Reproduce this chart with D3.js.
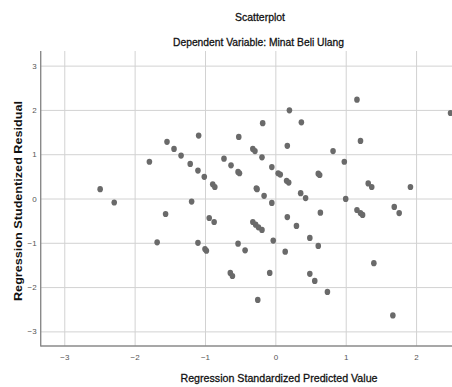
<!DOCTYPE html>
<html>
<head>
<meta charset="utf-8">
<script src="https://cdn.jsdelivr.net/npm/d3@7"></script>
<style>
  html, body { margin: 0; padding: 0; background: #ffffff; }
  svg { display: block; }
</style>
</head>
<body>
<svg id="chart" width="452" height="387"></svg>
<script>
const predicted = [-2.49,-2.29,-1.79,-1.54,-1.44,-1.34,-1.21,-1.10,-1.01,-0.89,-0.86,-1.09,-1.19,-0.73,-0.63,-0.53,-0.51,-0.52,-0.32,-0.29,-0.19,-0.18,-0.27,-0.26,-0.16,-0.05,-0.05,0.04,0.07,0.16,0.19,0.17,0.20,0.37,0.36,0.43,1.16,2.49,1.21,0.82,0.98,0.61,0.63,1.32,1.37,1.92,1.00,1.69,0.64,1.16,1.21,1.24,1.76,0.49,0.61,1.40,0.49,0.56,0.74,1.67,-1.56,-0.94,-0.87,-0.32,-0.28,-0.24,-0.19,0.17,0.30,-1.68,-1.10,-1.00,-0.98,-0.53,-0.43,-0.03,0.14,-0.64,-0.61,-0.08,-0.25];
const residual = [0.21,-0.09,0.83,1.28,1.12,0.97,0.78,0.63,0.49,0.32,0.26,1.42,-0.07,0.90,0.75,0.60,0.57,1.39,1.12,1.07,0.93,1.70,0.23,0.21,0.06,-0.10,0.71,0.57,0.54,0.40,0.36,1.19,1.99,1.72,0.12,0.01,2.23,1.93,1.30,1.07,0.83,0.56,0.53,0.34,0.26,0.26,-0.01,-0.19,-0.32,-0.26,-0.33,-0.37,-0.33,-0.89,-1.07,-1.46,-1.70,-1.86,-2.11,-2.64,-0.35,-0.44,-0.53,-0.53,-0.59,-0.65,-0.71,-0.42,-0.62,-0.99,-1.00,-1.14,-1.18,-1.02,-1.17,-0.95,-1.20,-1.68,-1.75,-1.68,-2.29];
const xTicks = [-3,-2,-1,0,1,2];
const yTicks = [-3,-2,-1,0,1,2,3];
const titleText = "Scatterplot";
const subtitleText = "Dependent Variable: Minat Beli Ulang";
const xLabel = "Regression Standardized Predicted Value";
const yLabel = "Regression Studentized Residual";

const svg = d3.select("#chart");
const plotL = 40.7, plotR = 510, plotT = 51, plotB = 346;

const x = d3.scaleLinear().domain([-3.335, 3.335]).range([plotL, plotR]);
const y = d3.scaleLinear().domain([-3.33, 3.33]).range([plotB, plotT]);

// grid
const xAxis = svg.append("g").attr("transform", `translate(0,${plotB})`)
  .call(d3.axisBottom(x).tickValues(xTicks).tickSize(-(plotB - plotT)).tickPadding(8).tickFormat(d3.format("d")));
const yAxis = svg.append("g").attr("transform", `translate(${plotL},0)`)
  .call(d3.axisLeft(y).tickValues(yTicks).tickSize(-(plotR - plotL)).tickPadding(4).tickFormat(d3.format("d")));

[xAxis, yAxis].forEach(g => {
  g.select(".domain").remove();
  g.selectAll(".tick line").attr("stroke", "#d2d2d2").attr("stroke-width", 1);
  g.selectAll(".tick text").attr("fill", "#555").attr("font-family", "Liberation Sans, Arial, sans-serif").attr("font-size", 8);
});

// axis lines
svg.append("line").attr("x1", plotL).attr("x2", plotL).attr("y1", plotT).attr("y2", plotB + 0.5)
  .attr("stroke", "#8a8a8a").attr("stroke-width", 1.4);
svg.append("line").attr("x1", plotL).attr("x2", plotR).attr("y1", plotB).attr("y2", plotB)
  .attr("stroke", "#8a8a8a").attr("stroke-width", 1.4);

// points
const pts = predicted.map((p, i) => ({p, r: residual[i]}));
svg.append("g").selectAll("ellipse").data(pts).join("ellipse")
  .attr("cx", d => x(d.p)).attr("cy", d => y(d.r))
  .attr("rx", 2.8).attr("ry", 3.1)
  .attr("fill", "#6a6a6a");

// titles
const font = "Liberation Sans, Arial, sans-serif";
function heavyText(sel) {
  return sel.attr("font-family", font).attr("font-size", 11.5).attr("fill", "#111")
    .attr("stroke", "#111").attr("stroke-width", 0.3).attr("lengthAdjust", "spacingAndGlyphs");
}
heavyText(svg.append("text").attr("x", 260).attr("y", 21).attr("text-anchor", "middle"))
  .attr("textLength", 50).text(titleText);
heavyText(svg.append("text").attr("x", 258.5).attr("y", 46).attr("text-anchor", "middle"))
  .attr("textLength", 171).text(subtitleText);
heavyText(svg.append("text").attr("x", 279).attr("y", 382).attr("text-anchor", "middle"))
  .attr("textLength", 197).text(xLabel);
svg.append("text").attr("transform", "translate(22,201) rotate(-90)").attr("text-anchor", "middle")
  .attr("font-family", font).attr("font-size", 11.5).attr("font-weight", "bold").attr("fill", "#111")
  .attr("textLength", 200).attr("lengthAdjust", "spacingAndGlyphs").text(yLabel);
</script>
</body>
</html>
